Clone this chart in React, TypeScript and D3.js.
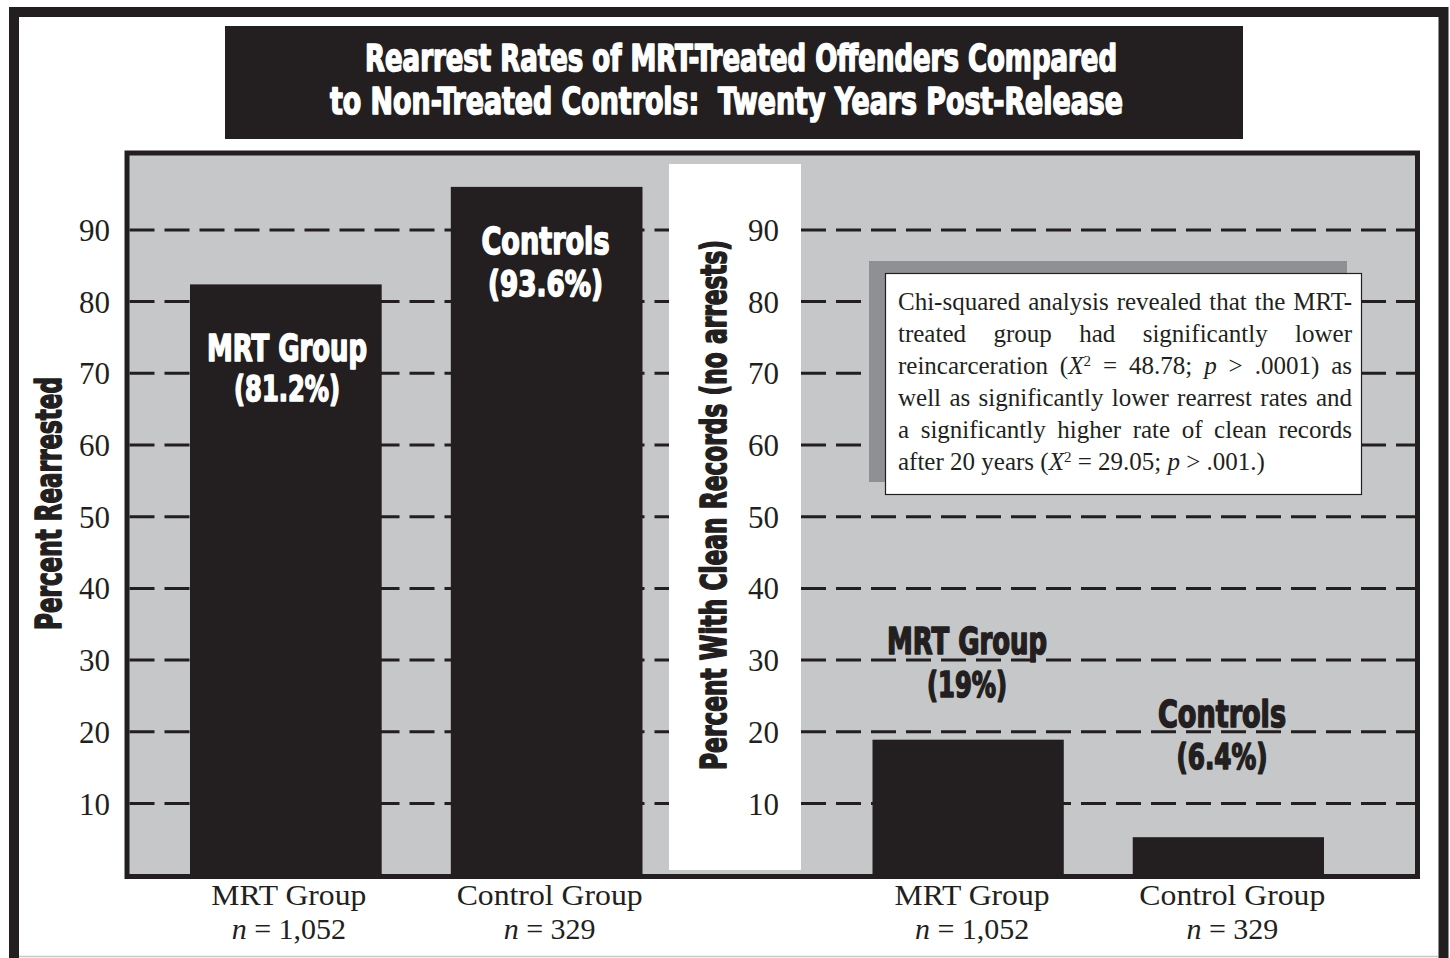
import React, { useEffect, useRef } from "react";
import * as d3 from "d3";

// ---------- data ----------
const titleLines = [
  "Rearrest Rates of MRT-Treated Offenders Compared",
  "to Non-Treated Controls:  Twenty Years Post-Release",
];
const groupNames = ["MRT Group", "Control Group"];
const sampleSizes = ["1,052", "329"];
const barTitles = ["MRT Group", "Controls"];
// bar heights as drawn in the picture (percent)
const rearrestValues = [82.4, 96.0];
const rearrestLabels = ["(81.2%)", "(93.6%)"];
const cleanValues = [18.9, 5.3];
const cleanLabels = ["(19%)", "(6.4%)"];
const yTicks = [10, 20, 30, 40, 50, 60, 70, 80, 90];
const leftAxisTitle = "Percent Rearrested";
const rightAxisTitle = "Percent With Clean Records (no arrests)";

type Seg = { t: string; i?: boolean; sup?: boolean };
const noteLines: Seg[][] = [
  [{ t: "Chi-squared analysis revealed that the MRT-" }],
  [{ t: "treated group had significantly lower" }],
  [
    { t: "reincarceration (" },
    { t: "X", i: true },
    { t: "2", sup: true },
    { t: " = 48.78; " },
    { t: "p", i: true },
    { t: " > .0001) as" },
  ],
  [{ t: "well as significantly lower rearrest rates and" }],
  [{ t: "a significantly higher rate of clean records" }],
  [
    { t: "after 20 years (" },
    { t: "X", i: true },
    { t: "2", sup: true },
    { t: " = 29.05; " },
    { t: "p", i: true },
    { t: " > .001.)" },
  ],
];

// ---------- styles ----------
const W = 1450;
const H = 958;
const INK = "#231f20";
const PLOT_GRAY = "#c6c7c9";
const SHADOW = "#8f9093";
const HEAVY = "'Liberation Sans Narrow', 'DejaVu Sans Condensed', 'Liberation Sans', Arial, sans-serif";
const SERIF = "'Liberation Serif', 'Times New Roman', Times, serif";

export default function App() {
  const ref = useRef<SVGSVGElement | null>(null);

  useEffect(() => {
    const svg = d3.select(ref.current);
    svg.selectAll("*").remove();

    // outer frame
    svg.append("rect").attr("x", 0).attr("y", 0).attr("width", W).attr("height", H).attr("fill", "#fff");
    svg
      .append("line")
      .attr("x1", 19).attr("x2", 1438).attr("y1", 956.5).attr("y2", 956.5)
      .attr("stroke", "#c8c8c8").attr("stroke-width", 1.5);
    svg
      .append("rect")
      .attr("x", 14).attr("y", 12).attr("width", 1429.5).attr("height", 990)
      .attr("fill", "none").attr("stroke", INK).attr("stroke-width", 10);

    // title
    svg.append("rect").attr("x", 225).attr("y", 26).attr("width", 1018).attr("height", 113).attr("fill", INK);
    const titleLayout = [
      { x: 365, y: 71, len: 752 },
      { x: 330, y: 114, len: 793 },
    ];
    titleLines.forEach((line, i) => {
      svg
        .append("text")
        .attr("x", titleLayout[i].x)
        .attr("y", titleLayout[i].y)
        .attr("textLength", titleLayout[i].len)
        .attr("lengthAdjust", "spacingAndGlyphs")
        .attr("font-family", HEAVY)
        .attr("font-weight", 700)
        .attr("font-size", 38)
        .attr("fill", "#fff")
        .attr("stroke", "#fff")
        .attr("stroke-width", 1.6)
        .attr("stroke-linejoin", "round")
        .attr("xml:space", "preserve")
        .text(line);
    });

    // plot area
    const plotL = 127, plotT = 153, plotR = 1417.5, plotB = 876.5;
    svg
      .append("rect")
      .attr("x", plotL).attr("y", plotT).attr("width", plotR - plotL).attr("height", plotB - plotT)
      .attr("fill", PLOT_GRAY);

    const y = d3.scaleLinear().domain([0, 100]).range([875.2, 158.2]);
    const xL = d3.scaleBand<string>().domain(groupNames).range([190, 642.5]).paddingInner(0.265).paddingOuter(0);
    const xR = d3.scaleBand<string>().domain(groupNames).range([872.5, 1324]).paddingInner(0.265).paddingOuter(0);

    // grid dashes
    const grid = svg.append("g");
    const segs = [
      [129.5, 669],
      [801, 1415],
    ];
    segs.forEach(([a, b]) => {
      grid
        .selectAll(null)
        .data(yTicks)
        .enter()
        .append("line")
        .attr("x1", a)
        .attr("x2", b)
        .attr("y1", (d) => y(d))
        .attr("y2", (d) => y(d))
        .attr("stroke", INK)
        .attr("stroke-width", 3)
        .attr("stroke-dasharray", "25 10");
    });

    // white strip for the right axis
    svg.append("rect").attr("x", 669).attr("y", 164).attr("width", 132).attr("height", 706).attr("fill", "#fff");

    // bars
    svg
      .append("g")
      .selectAll("rect")
      .data(rearrestValues)
      .enter()
      .append("rect")
      .attr("x", (_, i) => xL(groupNames[i]) as number)
      .attr("width", xL.bandwidth())
      .attr("y", (d) => y(d))
      .attr("height", (d) => plotB - y(d))
      .attr("fill", INK);
    svg
      .append("g")
      .selectAll("rect")
      .data(cleanValues)
      .enter()
      .append("rect")
      .attr("x", (_, i) => xR(groupNames[i]) as number)
      .attr("width", xR.bandwidth())
      .attr("y", (d) => y(d))
      .attr("height", (d) => plotB - y(d))
      .attr("fill", INK);

    // plot border
    svg
      .append("rect")
      .attr("x", plotL).attr("y", plotT).attr("width", plotR - plotL).attr("height", plotB - plotT)
      .attr("fill", "none").attr("stroke", INK).attr("stroke-width", 5);

    // heavy bar labels
    const heavyText = (
      txt: string, cx: number, by: number, len: number, fill: string, size: number
    ) =>
      svg
        .append("text")
        .attr("x", cx - len / 2)
        .attr("y", by)
        .attr("textLength", len)
        .attr("lengthAdjust", "spacingAndGlyphs")
        .attr("font-family", HEAVY)
        .attr("font-weight", 700)
        .attr("font-size", size)
        .attr("fill", fill)
        .attr("stroke", fill)
        .attr("stroke-width", 1.6)
        .attr("stroke-linejoin", "round")
        .text(txt);

    const cL = (i: number) => (xL(groupNames[i]) as number) + xL.bandwidth() / 2;
    const cR = (i: number) => (xR(groupNames[i]) as number) + xR.bandwidth() / 2;
    const leftLabelPos = [
      { c: 287, b1: 360.5, w1: 160, b2: 401, w2: 106 },
      { c: 545.5, b1: 253.5, w1: 128, b2: 295.5, w2: 115 },
    ];
    const rightLabelPos = [
      { c: 967, b1: 653.5, w1: 160, b2: 697, w2: 80 },
      { c: 1222, b1: 727, w1: 128, b2: 769, w2: 91 },
    ];
    rearrestLabels.forEach((lab, i) => {
      const p = leftLabelPos[i];
      const off = p.c - cL(i);
      heavyText(barTitles[i], cL(i) + off, p.b1, p.w1, "#fff", 38);
      heavyText(lab, cL(i) + off, p.b2, p.w2, "#fff", 35);
    });
    cleanLabels.forEach((lab, i) => {
      const p = rightLabelPos[i];
      const off = p.c - cR(i);
      heavyText(barTitles[i], cR(i) + off, p.b1, p.w1, INK, 38);
      heavyText(lab, cR(i) + off, p.b2, p.w2, INK, 35);
    });

    // tick labels
    const tickText = (x: number) =>
      svg
        .append("g")
        .selectAll("text")
        .data(yTicks)
        .enter()
        .append("text")
        .attr("x", x)
        .attr("y", (d) => y(d) + 11)
        .attr("text-anchor", "end")
        .attr("font-family", SERIF)
        .attr("font-size", 31)
        .attr("fill", INK)
        .text((d) => String(d));
    tickText(110);
    tickText(779);

    // axis titles
    const axisTitle = (txt: string, x: number, cy: number, len: number) =>
      svg
        .append("text")
        .attr("transform", `translate(${x},${cy}) rotate(-90)`)
        .attr("x", -len / 2)
        .attr("y", 0)
        .attr("textLength", len)
        .attr("lengthAdjust", "spacingAndGlyphs")
        .attr("font-family", HEAVY)
        .attr("font-weight", 700)
        .attr("font-size", 35)
        .attr("fill", INK)
        .attr("stroke", INK)
        .attr("stroke-width", 1.6)
        .attr("stroke-linejoin", "round")
        .text(txt);
    axisTitle(leftAxisTitle, 61, 503.5, 253);
    axisTitle(rightAxisTitle, 726, 505, 530);

    // category labels
    const catWidths = [155, 186];
    const catLabels = (scale: d3.ScaleBand<string>, dx: number) => {
      groupNames.forEach((g, i) => {
        const cx = (scale(g) as number) + scale.bandwidth() / 2 + dx;
        svg
          .append("text")
          .attr("x", cx - catWidths[i] / 2)
          .attr("y", 905)
          .attr("textLength", catWidths[i])
          .attr("lengthAdjust", "spacingAndGlyphs")
          .attr("font-family", SERIF)
          .attr("font-size", 29.5)
          .attr("fill", INK)
          .text(g);
        const t = svg
          .append("text")
          .attr("x", cx)
          .attr("y", 939)
          .attr("text-anchor", "middle")
          .attr("font-family", SERIF)
          .attr("font-size", 30)
          .attr("fill", INK);
        t.append("tspan").attr("font-style", "italic").text("n");
        t.append("tspan").text(" = " + sampleSizes[i]);
      });
    };
    catLabels(xL, 3);
    catLabels(xR, 4);

    // note box
    svg.append("rect").attr("x", 869).attr("y", 261).attr("width", 478).attr("height", 221).attr("fill", SHADOW);
    svg
      .append("rect")
      .attr("x", 885.5).attr("y", 273.5).attr("width", 476).attr("height", 221)
      .attr("fill", "#fff").attr("stroke", INK).attr("stroke-width", 1.2);
    const noteX = 898;
    const noteW = 454;
    noteLines.forEach((segsArr, li) => {
      const t = svg
        .append("text")
        .attr("x", noteX)
        .attr("y", 310 + li * 32)
        .attr("font-family", SERIF)
        .attr("font-size", 25)
        .attr("fill", INK)
        .attr("xml:space", "preserve");
      segsArr.forEach((s) => {
        const ts = t.append("tspan").text(s.t);
        if (s.i) ts.attr("font-style", "italic");
        if (s.sup) ts.attr("font-size", 15).attr("baseline-shift", "super");
      });
      if (li < noteLines.length - 1) {
        const node = t.node() as SVGTextElement;
        const natural = node.getComputedTextLength();
        const full = segsArr.map((s) => s.t).join("");
        const spaces = (full.match(/ /g) || []).length;
        if (spaces > 0) {
          const ws = (noteW - natural) / spaces;
          t.style("word-spacing", `${ws}px`);
        }
      }
    });
  }, []);

  return (
    <svg
      ref={ref}
      width={W}
      height={H}
      style={{ position: "absolute", left: 0, top: 0, display: "block" }}
    />
  );
}
